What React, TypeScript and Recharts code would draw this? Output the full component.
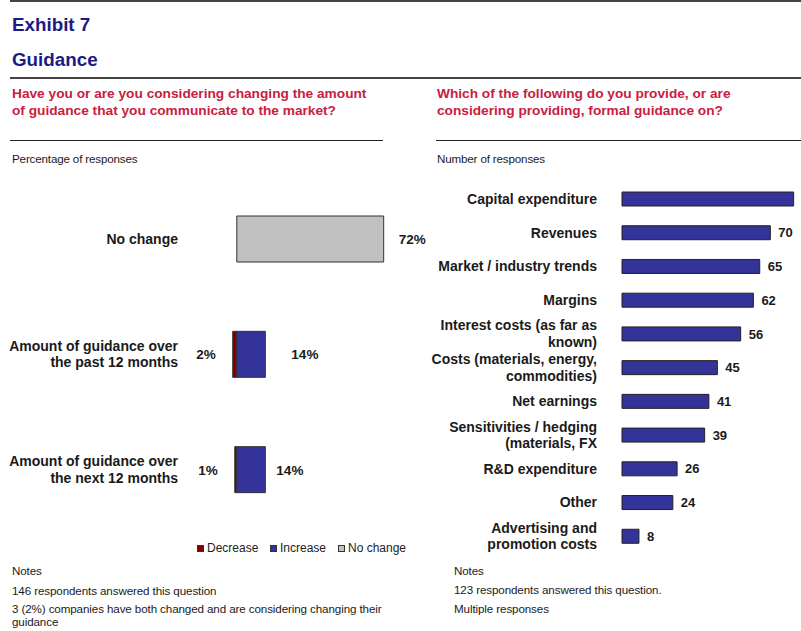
import React from "react";
import { BarChart, Bar, XAxis, YAxis, LabelList } from "recharts";

// ---- Data ----
const changeCategories = [
  "No change",
  "Amount of guidance over\nthe past 12 months",
  "Amount of guidance over\nthe next 12 months",
];
const decreasePct: (number | null)[] = [null, 2, 1];
const increasePct: (number | null)[] = [null, 14, 14];
const noChangePct: (number | null)[] = [72, null, null];

const guidanceItems = [
  "Capital expenditure",
  "Revenues",
  "Market / industry trends",
  "Margins",
  "Interest costs (as far as\nknown)",
  "Costs (materials, energy,\ncommodities)",
  "Net earnings",
  "Sensitivities / hedging\n(materials, FX",
  "R&D expenditure",
  "Other",
  "Advertising and\npromotion costs",
];
const guidanceCounts = [81, 70, 65, 62, 56, 45, 41, 39, 26, 24, 8];

const legendItems = ["Decrease", "Increase", "No change"];

// ---- Styles ----
const FONT = "'Liberation Sans', Arial, sans-serif";
const NAVY = "#1B1B85";
const RED = "#C8203F";
const BLUE = "#333399";
const DARKRED = "#800000";
const GREY = "#C0C0C0";
const TEXT = "#1a1a1a";
// label gaps for the rendered (non-empty) increase bars, in order
const increaseLabelGap = [26, 11];

const changeTable = changeCategories.map((name, i) => ({
  name,
  decrease: decreasePct[i] == null ? null : -(decreasePct[i] as number),
  decreaseAbs: decreasePct[i],
  increase: increasePct[i],
  noChange: noChangePct[i],
}));

const guidanceTable = guidanceItems.map((name, i) => ({
  name,
  count: guidanceCounts[i],
}));

const MultiLineTick = (props: any) => {
  const { x, y, payload } = props;
  const lines = String(payload.value).split("\n");
  const gap = 16.7;
  const n = lines.length;
  return (
    <text
      x={x}
      y={y}
      textAnchor="end"
      fontFamily={FONT}
      fontSize={14}
      fontWeight="bold"
      fill={TEXT}
    >
      {lines.map((l, i) => (
        <tspan key={i} x={x} dy={i === 0 ? -((n - 1) / 2) * gap + 5 : gap}>
          {l}
        </tspan>
      ))}
    </text>
  );
};

const makeRightLabel = (gapFn: (i: number) => number, suffix: string, size: number) =>
  (props: any) => {
    const { x, y, width, height, value, index } = props;
    if (value == null) return null;
    const right = Math.max(x, x + width);
    return (
      <text
        x={right + gapFn(index ?? 0)}
        y={y + height / 2 + size * 0.36}
        textAnchor="start"
        fontFamily={FONT}
        fontSize={size}
        fontWeight="bold"
        fill={TEXT}
      >
        {value}
        {suffix}
      </text>
    );
  };

const decreaseLabel = (props: any) => {
  const { x, y, width, height, value } = props;
  if (value == null) return null;
  const left = Math.min(x, x + width);
  return (
    <text
      x={left - 17}
      y={y + height / 2 + 13.5 * 0.36}
      textAnchor="end"
      fontFamily={FONT}
      fontSize={13.5}
      fontWeight="bold"
      fill={TEXT}
    >
      {value}%
    </text>
  );
};

const legendColors = [DARKRED, BLUE, GREY];
const legendX = [197, 270, 338];
const SMALL = 11.6;

export default function App() {
  return (
    <div
      style={{
        position: "absolute",
        left: 0,
        top: 0,
        width: 801,
        height: 631,
        background: "#fff",
        overflow: "hidden",
        fontFamily: FONT,
      }}
    >
      {/* rules */}
      <div style={{ position: "absolute", left: 10, top: 0, width: 791, height: 2, background: "#444" }} />
      <div style={{ position: "absolute", left: 10, top: 77, width: 791, height: 2, background: "#444" }} />
      <div style={{ position: "absolute", left: 10, top: 140, width: 373, height: 1, background: "#222" }} />
      <div style={{ position: "absolute", left: 436, top: 140, width: 365, height: 1, background: "#222" }} />

      {/* text overlay */}
      <svg
        width={801}
        height={631}
        style={{ position: "absolute", left: 0, top: 0 }}
        fontFamily={FONT}
      >
        <text x={12} y={31} fontSize={18.8} fontWeight="bold" fill={NAVY}>Exhibit 7</text>
        <text x={12} y={66} fontSize={18.8} fontWeight="bold" fill={NAVY}>Guidance</text>

        <text x={12} y={98} fontSize={13.7} fontWeight="bold" fill={RED}>
          Have you or are you considering changing the amount
        </text>
        <text x={12} y={115} fontSize={13.7} fontWeight="bold" fill={RED}>
          of guidance that you communicate to the market?
        </text>
        <text x={437} y={98} fontSize={13.7} fontWeight="bold" fill={RED}>
          Which of the following do you provide, or are
        </text>
        <text x={437} y={115} fontSize={13.7} fontWeight="bold" fill={RED}>
          considering providing, formal guidance on?
        </text>

        <text x={12} y={163} fontSize={SMALL} fill={TEXT} letterSpacing={-0.15}>Percentage of responses</text>
        <text x={437} y={163} fontSize={SMALL} fill={TEXT} letterSpacing={-0.15}>Number of responses</text>

        {legendItems.map((name, i) => (
          <g key={name}>
            <rect
              x={legendX[i] + 0.5}
              y={545.5}
              width={6}
              height={6}
              fill={legendColors[i]}
              stroke="#333"
              strokeWidth={1}
            />
            <text x={legendX[i] + 10} y={552} fontSize={12} fill="#222">{name}</text>
          </g>
        ))}

        <text x={12} y={575} fontSize={SMALL} fill={TEXT} letterSpacing={-0.1}>Notes</text>
        <text x={12} y={595} fontSize={SMALL} fill={TEXT} letterSpacing={-0.1}>146 respondents answered this question</text>
        <text x={12} y={613} fontSize={SMALL} fill={TEXT} letterSpacing={-0.1}>
          3 (2%) companies have both changed and are considering changing their
        </text>
        <text x={12} y={626} fontSize={SMALL} fill={TEXT} letterSpacing={-0.1}>guidance</text>

        <text x={454} y={575} fontSize={SMALL} fill={TEXT} letterSpacing={-0.1}>Notes</text>
        <text x={454} y={594} fontSize={SMALL} fill={TEXT} letterSpacing={-0.1}>123 respondents answered this question.</text>
        <text x={454} y={613} fontSize={SMALL} fill={TEXT} letterSpacing={-0.1}>Multiple responses</text>
      </svg>

      {/* Left chart */}
      <div style={{ position: "absolute", left: 0, top: 170 }}>
        <BarChart
          width={430}
          height={370}
          data={changeTable}
          layout="vertical"
          stackOffset="sign"
          margin={{ top: 11, right: 30, bottom: 13, left: 0 }}
        >
          <XAxis type="number" domain={[-20, 80]} hide />
          <YAxis
            type="category"
            dataKey="name"
            width={196}
            axisLine={false}
            tickLine={false}
            tickSize={0}
            tickMargin={18}
            tick={<MultiLineTick />}
            interval={0}
          />
          <Bar dataKey="decrease" stackId="a" fill={DARKRED} stroke="#333" strokeWidth={1} barSize={46} isAnimationActive={false}>
            <LabelList dataKey="decreaseAbs" content={decreaseLabel} />
          </Bar>
          <Bar dataKey="increase" stackId="a" fill={BLUE} stroke="#333" strokeWidth={1} barSize={46} isAnimationActive={false}>
            <LabelList dataKey="increase" content={makeRightLabel((i) => increaseLabelGap[i] ?? 15, "%", 13.5)} />
          </Bar>
          <Bar dataKey="noChange" stackId="a" fill={GREY} stroke="#333" strokeWidth={1} barSize={46} isAnimationActive={false}>
            <LabelList dataKey="noChange" content={makeRightLabel(() => 15, "%", 13.5)} />
          </Bar>
        </BarChart>
      </div>

      {/* Right chart */}
      <div style={{ position: "absolute", left: 420, top: 170 }}>
        <BarChart
          width={381}
          height={400}
          data={guidanceTable}
          layout="vertical"
          margin={{ top: 12, right: 1, bottom: 17, left: 0 }}
        >
          <XAxis type="number" domain={[0, 84]} hide />
          <YAxis
            type="category"
            dataKey="name"
            width={202}
            axisLine={false}
            tickLine={false}
            tickSize={0}
            tickMargin={25}
            tick={<MultiLineTick />}
            interval={0}
          />
          <Bar dataKey="count" fill={BLUE} stroke="#222" strokeWidth={1} barSize={14} isAnimationActive={false}>
            <LabelList dataKey="count" content={makeRightLabel(() => 8, "", 13)} />
          </Bar>
        </BarChart>
      </div>
    </div>
  );
}
